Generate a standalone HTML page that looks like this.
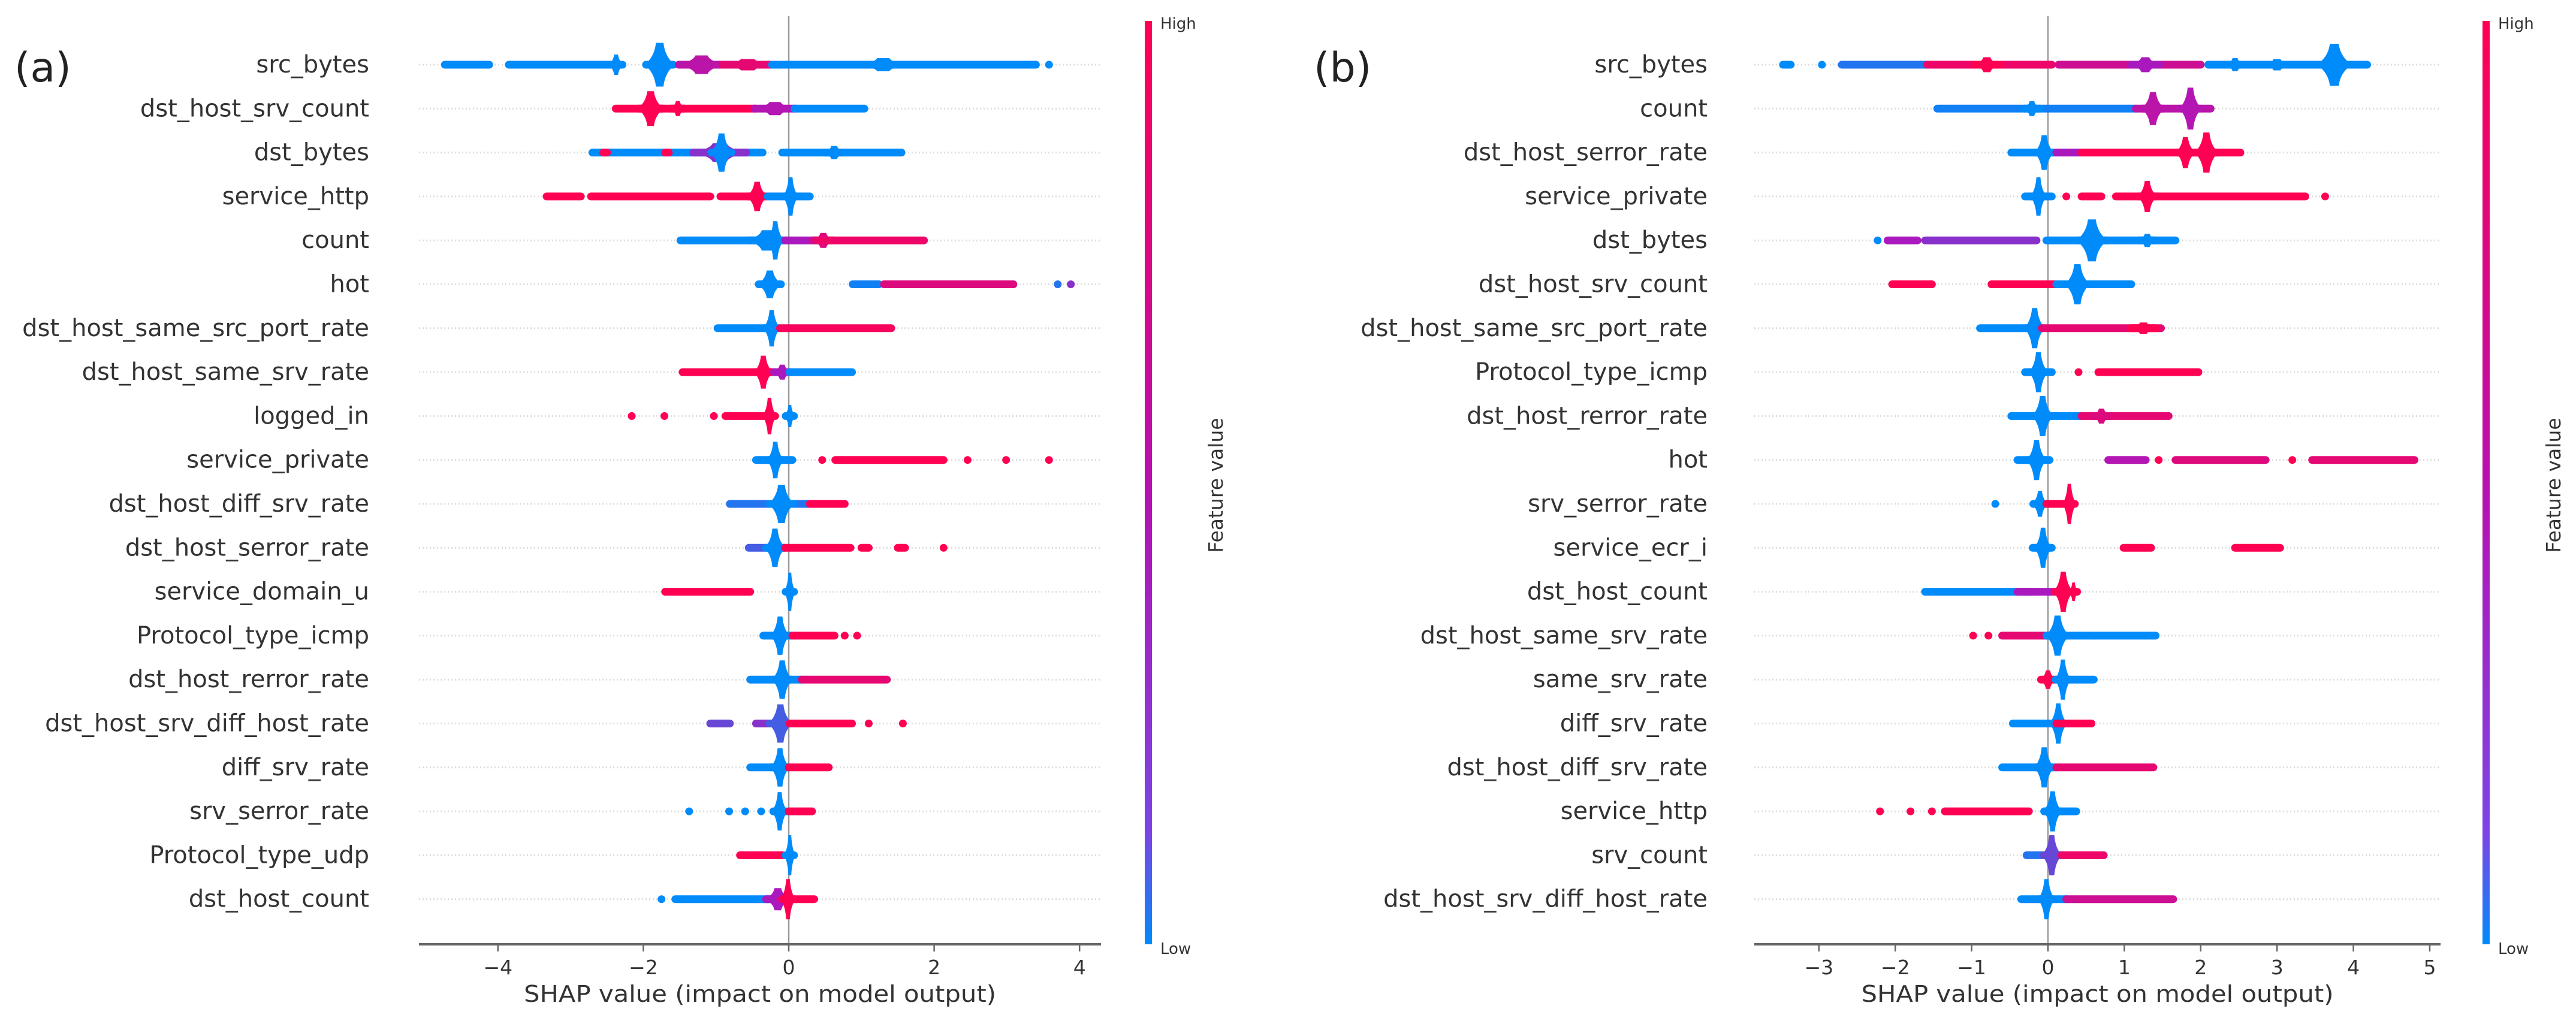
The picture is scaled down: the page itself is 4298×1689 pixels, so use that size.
<!DOCTYPE html>
<html><head><meta charset="utf-8">
<style>
html,body{margin:0;padding:0;background:#fff;}
svg{display:block;}
text{font-family:"DejaVu Sans","Liberation Sans",sans-serif;}
</style></head>
<body>
<svg id="chart" width="4298" height="1689" viewBox="0 0 4298 1689" xmlns="http://www.w3.org/2000/svg">
<defs>
<linearGradient id="cbar" x1="0" y1="1" x2="0" y2="0">
<stop offset="0" stop-color="#008bfb"/>
<stop offset="0.12" stop-color="#7b45e6"/>
<stop offset="0.5" stop-color="#b80fb0"/>
<stop offset="1" stop-color="#ff0052"/>
</linearGradient>
</defs>
<text x="24" y="136" font-size="68" fill="#222" font-family="Liberation Sans, sans-serif">(a)</text>
<text x="2192" y="136" font-size="68" fill="#222" font-family="Liberation Sans, sans-serif">(b)</text>
<g id="panelA"></g>
<g id="panelB"></g>
</svg>
<script>
const featuresA = ["src_bytes","dst_host_srv_count","dst_bytes","service_http","count","hot","dst_host_same_src_port_rate","dst_host_same_srv_rate","logged_in","service_private","dst_host_diff_srv_rate","dst_host_serror_rate","service_domain_u","Protocol_type_icmp","dst_host_rerror_rate","dst_host_srv_diff_host_rate","diff_srv_rate","srv_serror_rate","Protocol_type_udp","dst_host_count"];
const featuresB = ["src_bytes","count","dst_host_serror_rate","service_private","dst_bytes","dst_host_srv_count","dst_host_same_src_port_rate","Protocol_type_icmp","dst_host_rerror_rate","hot","srv_serror_rate","service_ecr_i","dst_host_count","dst_host_same_srv_rate","same_srv_rate","diff_srv_rate","dst_host_diff_srv_rate","service_http","srv_count","dst_host_srv_diff_host_rate"];
const ticksA = [-4,-2,0,2,4];
const ticksB = [-3,-2,-1,0,1,2,3,4,5];
// clusters: [shapLow, shapHigh, featureValue(0 low..1 high), peakDensity(0..1)]
const clustersA = [
 [[-4.73,-4.12,0,0],[-3.85,-2.45,0,0],[-2.45,-2.3,0,0.35],[-1.95,-1.6,0,1],[-1.5,-0.9,0.6,0.3],[-0.9,-0.23,0.85,0.1],[-0.23,1.0,0,0],[1.0,1.6,0,0.15],[1.6,3.4,0,0],[3.58,3.58,0,0]],
 [[-2.38,-0.46,1,0],[-2.05,-1.75,1,0.75],[-1.6,-1.45,1,0.2],[-0.46,0.08,0.55,0.15],[0.08,1.04,0,0]],
 [[-2.7,-0.36,0,0],[-2.55,-2.5,1,0],[-1.7,-1.65,1,0],[-1.3,-0.6,0.4,0.3],[-1.05,-0.8,0,0.85],[-0.09,1.55,0,0],[0.5,0.75,0,0.15]],
 [[-3.33,-2.86,1,0],[-2.72,-1.08,1,0],[-0.94,-0.33,1,0],[-0.55,-0.32,1,0.6],[-0.29,0.29,0,0],[-0.05,0.1,0,0.85]],
 [[-1.49,-0.19,0,0],[-0.55,-0.05,0,0.35],[-0.27,-0.1,0,0.85],[-0.05,0.42,0.5,0],[0.35,0.6,0.8,0.2],[0.42,1.86,0.9,0]],
 [[-0.4,-0.12,0,0.55],[0.88,1.24,0.05,0],[1.31,3.09,0.8,0],[3.7,3.7,0.1,0],[3.88,3.88,0.4,0]],
 [[-0.98,-0.23,0,0],[-0.32,-0.15,0,0.8],[-0.12,1.41,0.95,0]],
 [[-1.46,-0.19,1,0],[-0.45,-0.25,1,0.7],[-0.19,0.01,0.5,0.2],[0.01,0.87,0,0]],
 [[-2.16,-2.16,1,0],[-1.71,-1.71,1,0],[-1.03,-1.03,1,0],[-0.87,-0.23,1,0],[-0.33,-0.2,1,0.8],[-0.03,0.06,0,0.4]],
 [[-0.45,0.05,0,0],[-0.27,-0.1,0,0.8],[0.46,0.46,1,0],[0.64,2.13,1,0],[2.46,2.46,1,0],[2.99,2.99,1,0],[3.58,3.58,1,0]],
 [[-0.81,0.29,0.1,0],[-0.25,0.05,0,0.85],[0.29,0.77,1,0]],
 [[-0.55,-0.05,0.2,0],[-0.3,-0.08,0,0.85],[-0.05,0.85,1,0],[1.0,1.1,1,0],[1.5,1.6,1,0],[2.13,2.13,1,0]],
 [[-1.7,-0.53,1,0],[-0.03,0.06,0,0.85]],
 [[-0.35,0.05,0,0],[-0.22,-0.02,0,0.85],[0.05,0.63,1,0],[0.77,0.77,1,0],[0.94,0.94,1,0]],
 [[-0.53,0.18,0,0],[-0.2,0.02,0,0.85],[0.18,1.35,0.85,0]],
 [[-1.08,-0.81,0.3,0],[-0.45,0.01,0.4,0],[-0.25,0.02,0.2,0.85],[0.01,0.87,1,0],[1.1,1.1,1,0],[1.57,1.57,1,0]],
 [[-0.53,0,0,0],[-0.22,-0.02,0,0.85],[0,0.55,1,0]],
 [[-1.37,-1.37,0,0],[-0.82,-0.82,0,0],[-0.6,-0.6,0,0],[-0.38,-0.38,0,0],[-0.2,-0.05,0,0.85],[0,0.32,1,0]],
 [[-0.67,-0.09,1,0],[-0.03,0.06,0,0.9]],
 [[-1.75,-1.75,0,0],[-1.56,-0.19,0,0],[-0.3,0.0,0.5,0.4],[-0.08,0.06,1,0.9],[0,0.35,1,0]]
];
const clustersB = [
 [[-3.47,-3.37,0,0],[-2.96,-2.96,0,0],[-2.7,-1.58,0.1,0],[-1.58,0.05,0.9,0],[-0.95,-0.65,1,0.2],[0.14,2.0,0.7,0],[1.1,1.45,0.5,0.2],[2.1,4.18,0,0],[3.55,3.95,0,0.95],[2.35,2.55,0,0.15],[2.85,3.15,0,0.1]],
 [[-1.45,1.15,0.05,0],[-0.3,-0.12,0,0.2],[1.15,2.13,0.6,0],[1.25,1.5,0.6,0.7],[1.75,1.98,0.55,0.95]],
 [[-0.48,0.11,0,0],[-0.15,0.05,0,0.75],[0.11,0.44,0.5,0],[0.44,2.52,1,0],[1.7,1.9,1,0.65],[1.95,2.2,1,0.9]],
 [[-0.3,0.05,0,0],[-0.2,-0.05,0,0.85],[0.24,0.24,1,0],[0.44,0.7,1,0],[0.89,3.37,1,0],[1.2,1.4,1,0.65],[3.63,3.63,1,0]],
 [[-2.23,-2.23,0,0],[-2.1,-1.71,0.5,0],[-1.61,-0.15,0.4,0],[-0.02,1.67,0,0],[0.4,0.75,0,0.95],[1.2,1.4,0,0.15]],
 [[-2.04,-1.52,1,0],[-0.74,0.11,1,0],[0.11,1.09,0,0],[0.25,0.52,0,0.9]],
 [[-0.89,-0.08,0,0],[-0.28,-0.07,0,0.9],[-0.08,1.48,0.85,0],[1.1,1.4,1,0.1]],
 [[-0.3,0.05,0,0],[-0.22,-0.03,0,0.9],[0.4,0.4,1,0],[0.66,1.97,1,0]],
 [[-0.48,0.44,0,0],[-0.18,0.04,0,0.9],[0.44,1.58,0.85,0],[0.6,0.8,0.8,0.2]],
 [[-0.4,0.02,0,0],[-0.25,-0.05,0,0.9],[0.79,1.28,0.55,0],[1.45,1.45,1,0],[1.67,2.85,0.8,0],[3.2,3.2,1,0],[3.46,4.8,0.85,0]],
 [[-0.69,-0.69,0,0],[-0.18,-0.03,0,0.5],[-0.02,0.34,1,0],[0.22,0.34,1,0.9]],
 [[-0.2,0.05,0,0],[-0.15,0.02,0,0.9],[0.99,1.35,1,0],[2.45,3.04,1,0]],
 [[-1.61,-0.15,0,0],[-0.4,0.08,0.5,0],[0.1,0.3,1,0.9],[0.3,0.37,1,0.3]],
 [[-0.98,-0.98,1,0],[-0.78,-0.78,1,0],[-0.6,-0.02,0.85,0],[-0.02,0.6,0,0],[0,0.25,0,0.9],[0.6,1.41,0,0]],
 [[-0.08,0.08,1,0.3],[0.1,0.6,0,0],[0.12,0.27,0,0.9]],
 [[-0.46,0.11,0,0],[0.05,0.22,0,0.9],[0.11,0.57,1,0]],
 [[-0.6,0.11,0,0],[-0.15,0.05,0,0.9],[0.11,1.38,0.85,0]],
 [[-2.2,-2.2,1,0],[-1.8,-1.8,1,0],[-1.52,-1.52,1,0],[-1.35,-0.25,1,0],[-0.05,0.37,0,0],[-0.03,0.15,0,0.9]],
 [[-0.28,0.18,0.1,0],[-0.05,0.15,0.3,0.9],[0.18,0.73,0.9,0]],
 [[-0.35,0.24,0,0],[-0.1,0.06,0,0.9],[0.24,1.64,0.7,0]]
];

const NS = "http://www.w3.org/2000/svg";
function mk(tag, attrs, parent){
  const e = document.createElementNS(NS, tag);
  for (const k in attrs) e.setAttribute(k, attrs[k]);
  parent.appendChild(e);
  return e;
}
function colorFor(c){
  const lo=[0,139,251], mid=[170,25,190], hi=[255,0,82];
  let a,b,t;
  if (c<=0.5){a=lo;b=mid;t=c/0.5;} else {a=mid;b=hi;t=(c-0.5)/0.5;}
  const r=a.map((v,i)=>Math.round(v+(b[i]-v)*t));
  return "rgb("+r.join(",")+")";
}
const rowY = i => 108 + i*73.3;

function drawPanel(g, features, clusters, ticks, zeroPx, unitPx, axisL, axisR, labelRight, cbarX, key){
  const x = v => zeroPx + v*unitPx;
  const axisY = 1576;
  features.forEach((f,i)=>{
    const gl = mk("line",{x1:axisL,x2:axisR,y1:rowY(i),y2:rowY(i),stroke:"#dcdcdc","stroke-width":3,"stroke-dasharray":"2 4"},g);
    
    
  });
  const zl = mk("line",{x1:x(0),x2:x(0),y1:27,y2:axisY,stroke:"#999","stroke-width":2.5},g);
  
  
  features.forEach((f,i)=>{
    const rg = mk("g",{},g);
    
    
    const y = rowY(i);
    clusters[i].forEach(cl=>{
      const [lo,hi,c,pk] = cl;
      const x0 = x(lo), x1 = x(hi);
      const col = colorFor(c);
      let m;
      if (pk>0){
        const cx=(x0+x1)/2, rx=(x1-x0)/2+4, ry=6.5+pk*30;
        const d = "M"+(cx-rx)+","+y+" Q"+(cx-rx*0.35)+","+(y-ry*0.35)+" "+(cx-rx*0.25)+","+(y-ry)+
          " L"+(cx+rx*0.25)+","+(y-ry)+" Q"+(cx+rx*0.35)+","+(y-ry*0.35)+" "+(cx+rx)+","+y+
          " Q"+(cx+rx*0.35)+","+(y+ry*0.35)+" "+(cx+rx*0.25)+","+(y+ry)+
          " L"+(cx-rx*0.25)+","+(y+ry)+" Q"+(cx-rx*0.35)+","+(y+ry*0.35)+" "+(cx-rx)+","+y+"Z";
        m = mk("path",{d:d, fill:col},rg);
        mk("rect",{x:cx-rx-4, y:y-6.5, width:2*rx+8, height:13, rx:6.5, fill:col},rg);
      } else {
        m = mk("rect",{x:x0-6.5, y:y-6.5, width:(x1-x0)+13, height:13, rx:6.5, fill:col},rg);
      }
      
      
    });
    const lbl = mk("text",{x:labelRight, y:y+13, "text-anchor":"end","font-size":40, fill:"#333"},g);
    lbl.textContent = f;
    
    
  });
  const ax = mk("line",{x1:axisL,x2:axisR,y1:axisY,y2:axisY,stroke:"#666","stroke-width":4},g);
  
  
  ticks.forEach(t=>{
    const tk = mk("line",{x1:x(t),x2:x(t),y1:axisY,y2:axisY+12,stroke:"#666","stroke-width":2.5},g);
    
    
    const tl = mk("text",{x:x(t), y:axisY+50, "text-anchor":"middle","font-size":33, fill:"#333"},g);
    tl.textContent = (t<0?"\u2212":"")+Math.abs(t);
    
    
  });
  const at = mk("text",{x:(axisL+axisR)/2, y:1672, "text-anchor":"middle","font-size":38, fill:"#333", textLength:788, lengthAdjust:"spacingAndGlyphs"},g);
  at.textContent = "SHAP value (impact on model output)";
  
  
  const cb = mk("rect",{x:cbarX, y:35, width:12, height:axisY-35, fill:"url(#cbar)"},g);
  
  
  const hiT = mk("text",{x:cbarX+26, y:48, "font-size":26, fill:"#333"},g);
  hiT.textContent = "High";
  
  
  const loT = mk("text",{x:cbarX+26, y:1592, "font-size":26, fill:"#333"},g);
  loT.textContent = "Low";
  
  
  const fx = cbarX+130, fy = 810;
  const fv = mk("text",{x:fx, y:fy, "text-anchor":"middle","font-size":33, fill:"#333", transform:"rotate(-90 "+fx+" "+fy+")"},g);
  fv.textContent = "Feature value";
  
  
}
drawPanel(document.getElementById("panelA"), featuresA, clustersA, ticksA, 1316, 121.3, 699, 1837, 616, 1910, "a");
drawPanel(document.getElementById("panelB"), featuresB, clustersB, ticksB, 3417, 127.4, 2927, 4072, 2849, 4142, "b");
</script>
</body></html>
